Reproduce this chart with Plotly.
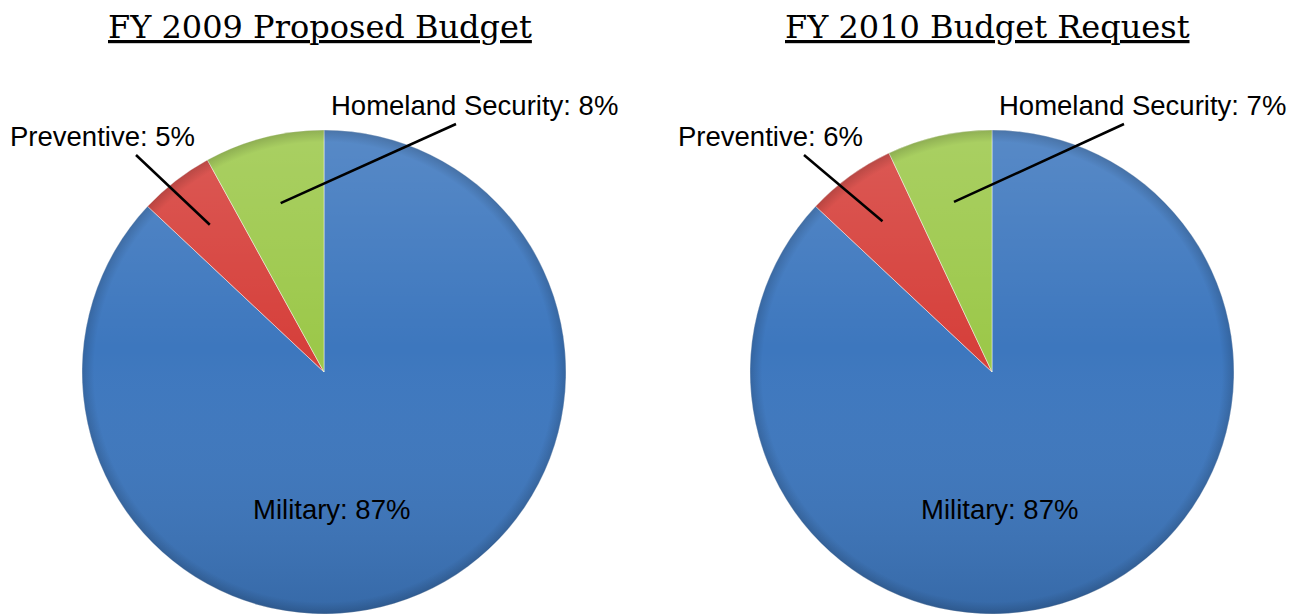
import math
import base64
import plotly.graph_objects as go

# page body has an 8px margin; figure is sized to fit the 1302x614 window
OFF = 8
W, H = 1302 - 2 * OFF, 614 - OFF

titles = ["FY 2009 Proposed Budget", "FY 2010 Budget Request"]
categories = ["Homeland Security", "Preventive", "Military"]
fy2009 = [8, 5, 87]
fy2010 = [7, 6, 87]
series = [fy2009, fy2010]
colors = ["#9CC84A", "#D6403B", "#3D77BE"]

# layout geometry (screen pixels)
centers_px = [(324, 372), (992, 372)]
R = 242

fig = go.Figure()
shapes = []
annotations = []
images = []


def to_paper(px, py):
    return (px - OFF) / W, 1 - (py - OFF) / H


def polar(cx, cy, frac_angle, r):
    # angle measured counterclockwise from 12 o'clock
    th = math.radians(frac_angle * 360)
    return cx - r * math.sin(th), cy - r * math.cos(th)


svg = (
    '<svg xmlns="http://www.w3.org/2000/svg" width="200" height="200" viewBox="0 0 200 200">'
    '<defs><linearGradient id="g" x1="0" y1="0" x2="0" y2="1">'
    '<stop offset="0" stop-color="#ffffff" stop-opacity="0.14"/>'
    '<stop offset="0.45" stop-color="#ffffff" stop-opacity="0"/>'
    '<stop offset="1" stop-color="#000000" stop-opacity="0.12"/>'
    '</linearGradient>'
    '<radialGradient id="r" cx="0.5" cy="0.5" r="0.5">'
    '<stop offset="0.95" stop-color="#000000" stop-opacity="0"/>'
    '<stop offset="1" stop-color="#000000" stop-opacity="0.16"/>'
    '</radialGradient></defs>'
    '<circle cx="100" cy="100" r="100" fill="url(#g)"/>'
    '<circle cx="100" cy="100" r="100" fill="url(#r)"/>'
    '</svg>'
)
svg_uri = "data:image/svg+xml;base64," + base64.b64encode(svg.encode()).decode()

for i, (vals, title) in enumerate(zip(series, titles)):
    cx, cy = centers_px[i]
    x0p, y1p = to_paper(cx - R, cy - R)
    x1p, y0p = to_paper(cx + R, cy + R)
    # clockwise from top in reverse order puts the first category just left of 12 o'clock
    fig.add_trace(go.Pie(
        labels=categories[::-1], values=vals[::-1], sort=False,
        direction="clockwise", rotation=0,
        marker=dict(colors=colors[::-1], line=dict(color="rgba(255,255,255,0.45)", width=1)),
        textinfo="none", hoverinfo="label+percent",
        domain=dict(x=[x0p, x1p], y=[y0p, y1p]), showlegend=False,
    ))
    images.append(dict(source=svg_uri, xref="paper", yref="paper",
                       x=x0p, y=y1p, sizex=x1p - x0p, sizey=y1p - y0p,
                       xanchor="left", yanchor="top", sizing="stretch",
                       layer="above"))
    total = sum(vals)
    cum = 0
    mids = []
    for v in vals:
        mids.append((cum + v / 2) / total)
        cum += v

    # title
    tx, ty = to_paper(cx - 4, 27)
    annotations.append(dict(x=tx, y=ty, xref="paper", yref="paper",
                            text="<u>%s</u>" % title, showarrow=False,
                            font=dict(family="DejaVu Serif", size=32, color="black"),
                            xanchor="center", yanchor="middle"))

    lab_font = dict(family="Liberation Sans, Arial", size=27.5, color="black")
    # Homeland Security
    ix, iy = polar(cx, cy, mids[0], 0.72 * R)
    ox, oy = cx + 132, cy - 248
    lx, ly = cx + 150, cy - 266
    # Preventive
    ix2, iy2 = polar(cx, cy, mids[1], 0.77 * R)
    ox2, oy2 = cx - 188, cy - 217
    lx2, ly2 = cx - 222, cy - 235
    # Military
    lx3, ly3 = cx + 7, cy + 137

    for (a, b, c, d) in [(ix, iy, ox, oy), (ix2, iy2, ox2, oy2)]:
        sx0, sy0 = to_paper(a, b)
        sx1, sy1 = to_paper(c, d)
        shapes.append(dict(type="line", xref="paper", yref="paper",
                           x0=sx0, y0=sy0, x1=sx1, y1=sy1,
                           line=dict(color="black", width=2.5)))

    for (lx_, ly_, k) in [(lx, ly, 0), (lx2, ly2, 1), (lx3, ly3, 2)]:
        px_, py_ = to_paper(lx_, ly_)
        pct = round(vals[k] / total * 100)
        annotations.append(dict(x=px_, y=py_, xref="paper", yref="paper",
                                text="%s: %d%%" % (categories[k], pct),
                                showarrow=False, font=lab_font,
                                xanchor="center", yanchor="middle"))

fig.update_layout(
    width=W, height=H,
    margin=dict(l=0, r=0, t=0, b=0),
    paper_bgcolor="white", plot_bgcolor="white",
    shapes=shapes, annotations=annotations, images=images,
)

fig.write_html("out.html")
